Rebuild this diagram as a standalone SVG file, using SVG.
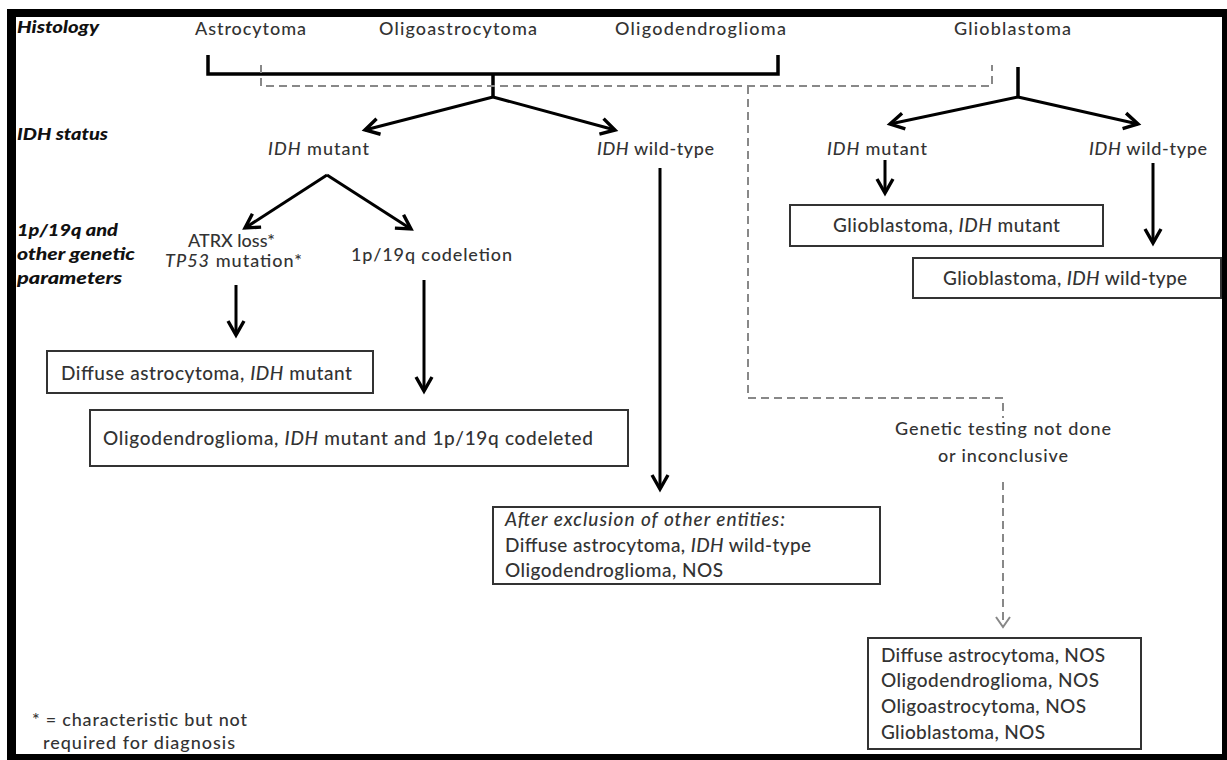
<svg xmlns="http://www.w3.org/2000/svg" width="1227" height="760" viewBox="0 0 1227 760">
<style>
.t{font-family:Lato,"Liberation Sans",sans-serif;font-size:18px;font-weight:500;fill:#333}
.b{font-family:Lato,"Liberation Sans",sans-serif;font-size:19px;font-weight:500;fill:#333}
.lab{font-family:Lato,"Liberation Sans",sans-serif;font-size:17px;font-weight:900;font-style:italic;fill:#111}
.i{font-style:italic}
.box{fill:#fff;stroke:#333;stroke-width:2}
.ln{fill:none;stroke:#000;stroke-width:3.5}
.ar{fill:none;stroke:#000;stroke-width:3;marker-end:url(#ah)}
.ds{fill:none;stroke:#888;stroke-width:2;stroke-dasharray:8 5}
</style>
<defs>
<marker id="ah" viewBox="-18 -11 22 22" refX="0" refY="0" markerWidth="22" markerHeight="22" markerUnits="userSpaceOnUse" orient="auto"><path d="M-14,-8 L0,0 L-14,8" fill="none" stroke="#000" stroke-width="3.4"/></marker>
<marker id="dh" viewBox="-14 -10 18 20" refX="0" refY="0" markerWidth="18" markerHeight="20" markerUnits="userSpaceOnUse" orient="auto"><path d="M-10,-7 L0,0 L-10,7" fill="none" stroke="#888" stroke-width="2"/></marker>
</defs>
<rect x="0" y="0" width="1227" height="760" fill="#fff"/>
<rect x="7" y="9" width="1220" height="751" fill="#000"/>
<rect x="16" y="17" width="1206" height="737" fill="#fff"/>

<g id="connectors">
<path class="ln" d="M208,55 V74 H778 V55"/>
<path class="ln" d="M493,74 V97"/>
<path class="ln" d="M1018,67 V97"/>
<path class="ds" d="M261,65 V86 H992 V65"/>
<path class="ds" d="M748,86 V398 H1003 V418"/>
<path class="ds" d="M1003,482 V627" marker-end="url(#dh)"/>
<path class="ar" d="M493,97 L365,130"/>
<path class="ar" d="M493,97 L615,130"/>
<path class="ar" d="M1018,97 L890,124"/>
<path class="ar" d="M1018,97 L1138,124"/>
<path class="ar" d="M327,175 L245,228"/>
<path class="ar" d="M327,175 L411,229"/>
<path class="ar" d="M236,285 V335"/>
<path class="ar" d="M424,280 V391"/>
<path class="ar" d="M660,168 V489"/>
<path class="ar" d="M885,160 V193"/>
<path class="ar" d="M1153,163 V243"/>
</g>

<g id="row-labels">
<text class="lab" x="17" y="33" textLength="82" lengthAdjust="spacingAndGlyphs">Histology</text>
<text class="lab" x="17" y="140" textLength="91" lengthAdjust="spacingAndGlyphs">IDH status</text>
<text class="lab" x="17" y="236" textLength="101" lengthAdjust="spacingAndGlyphs">1p/19q and</text>
<text class="lab" x="17" y="260" textLength="118" lengthAdjust="spacingAndGlyphs">other genetic</text>
<text class="lab" x="17" y="284" textLength="105" lengthAdjust="spacingAndGlyphs">parameters</text>
</g>

<g id="histology">
<text class="t" x="195" y="35" textLength="111" lengthAdjust="spacing">Astrocytoma</text>
<text class="t" x="379" y="35" textLength="158" lengthAdjust="spacing">Oligoastrocytoma</text>
<text class="t" x="615" y="35" textLength="171" lengthAdjust="spacing">Oligodendroglioma</text>
<text class="t" x="954" y="35" textLength="117" lengthAdjust="spacing">Glioblastoma</text>
</g>

<g id="idh-mutant-left"><text class="t" x="268" y="155" textLength="101" lengthAdjust="spacing"><tspan class="i">IDH</tspan> mutant</text></g>
<g id="idh-wildtype-left"><text class="t" x="597" y="155" textLength="117" lengthAdjust="spacing"><tspan class="i">IDH</tspan> wild-type</text></g>
<g id="idh-mutant-right"><text class="t" x="827" y="155" textLength="100" lengthAdjust="spacing"><tspan class="i">IDH</tspan> mutant</text></g>
<g id="idh-wildtype-right"><text class="t" x="1089" y="155" textLength="118" lengthAdjust="spacing"><tspan class="i">IDH</tspan> wild-type</text></g>

<g id="atrx">
<text class="t" x="188" y="247" textLength="87" lengthAdjust="spacing">ATRX loss*</text>
<text class="t" x="165" y="267" textLength="137" lengthAdjust="spacing"><tspan class="i">TP53</tspan> mutation*</text>
</g>
<g id="codeletion"><text class="t" x="351" y="261" textLength="161" lengthAdjust="spacing">1p/19q codeletion</text></g>

<g id="diffuse-idh-mutant">
<rect class="box" x="47" y="351" width="326" height="42"/>
<text class="b" x="61" y="380" textLength="291" lengthAdjust="spacing">Diffuse astrocytoma, <tspan class="i">IDH</tspan> mutant</text>
</g>
<g id="oligo-codeleted">
<rect class="box" x="90" y="410" width="538" height="56"/>
<text class="b" x="103" y="445" textLength="490" lengthAdjust="spacing">Oligodendroglioma, <tspan class="i">IDH</tspan> mutant and 1p/19q codeleted</text>
</g>
<g id="after-exclusion">
<rect class="box" x="493" y="507" width="387" height="77"/>
<text class="b" x="505" y="526" textLength="280" lengthAdjust="spacing"><tspan class="i">After exclusion of other entities:</tspan></text>
<text class="b" x="505" y="552" textLength="306" lengthAdjust="spacing">Diffuse astrocytoma, <tspan class="i">IDH</tspan> wild-type</text>
<text class="b" x="505" y="577" textLength="218" lengthAdjust="spacing">Oligodendroglioma, NOS</text>
</g>
<g id="gbm-idh-mutant">
<rect class="box" x="790" y="205" width="313" height="41"/>
<text class="b" x="833" y="232" textLength="227" lengthAdjust="spacing">Glioblastoma, <tspan class="i">IDH</tspan> mutant</text>
</g>
<g id="gbm-idh-wildtype">
<rect class="box" x="913" y="258" width="308" height="40"/>
<text class="b" x="943" y="285" textLength="244" lengthAdjust="spacing">Glioblastoma, <tspan class="i">IDH</tspan> wild-type</text>
</g>
<g id="genetic-testing">
<text class="t" x="1003" y="435" text-anchor="middle" textLength="216" lengthAdjust="spacing">Genetic testing not done</text>
<text class="t" x="1003" y="462" text-anchor="middle" textLength="130" lengthAdjust="spacing">or inconclusive</text>
</g>
<g id="nos">
<rect class="box" x="868" y="638" width="273" height="111"/>
<text class="b" x="881" y="662" textLength="224" lengthAdjust="spacing">Diffuse astrocytoma, NOS</text>
<text class="b" x="881" y="687" textLength="218" lengthAdjust="spacing">Oligodendroglioma, NOS</text>
<text class="b" x="881" y="713" textLength="205" lengthAdjust="spacing">Oligoastrocytoma, NOS</text>
<text class="b" x="881" y="739" textLength="164" lengthAdjust="spacing">Glioblastoma, NOS</text>
</g>
<g id="footnote">
<text class="t" x="32" y="726" textLength="215" lengthAdjust="spacing">* = characteristic but not</text>
<text class="t" x="43" y="749" textLength="192" lengthAdjust="spacing">required for diagnosis</text>
</g>
</svg>
